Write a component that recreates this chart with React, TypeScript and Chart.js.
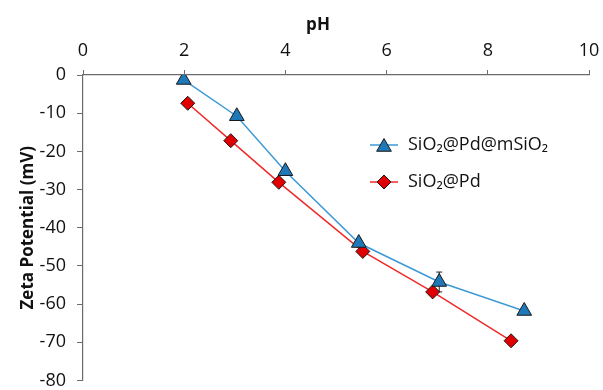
import React, { useEffect, useRef } from 'react';
import { Chart, registerables } from 'chart.js';
Chart.register(...registerables);

const xTicks = [0, 2, 4, 6, 8, 10];
const yTicks = [0, -10, -20, -30, -40, -50, -60, -70, -80];
const xTitle = 'pH';
const yTitle = 'Zeta Potential (mV)';

const seriesA = 'SiO₂@Pd@mSiO₂';
const aPH = [1.99, 3.04, 4.0, 5.45, 7.04, 8.72];
const aZeta = [-1.3, -10.8, -25.2, -44.0, -54.2, -61.8];
const aErr = [0.6, 0.8, 0.8, 1.0, 2.6, 0.8];

const seriesB = 'SiO₂@Pd';
const bPH = [2.07, 2.92, 3.87, 5.53, 6.91, 8.46];
const bZeta = [-7.4, -17.2, -28.1, -46.2, -56.8, -69.6];

const FONT = "'Open Sans', 'Liberation Sans', sans-serif";
const BLUE_LINE = '#3d9ad6';
const BLUE_FILL = '#1f78b8';
const RED_LINE = '#f02a2a';
const RED_FILL = '#e00000';
const EDGE = '#1a1a1a';
const AXIS = '#6b6b6b';
const TEXT = '#111111';

const errorBars = {
  id: 'errorBars',
  beforeDatasetsDraw(chart: any) {
    const { ctx, scales } = chart;
    ctx.save();
    ctx.strokeStyle = '#222';
    ctx.lineWidth = 1;
    aPH.forEach((x, i) => {
      const px = scales.x.getPixelForValue(x);
      const top = scales.y.getPixelForValue(aZeta[i] + aErr[i]);
      const bot = scales.y.getPixelForValue(aZeta[i] - aErr[i]);
      ctx.beginPath();
      ctx.moveTo(px, top);
      ctx.lineTo(px, bot);
      ctx.moveTo(px - 3, top);
      ctx.lineTo(px + 3, top);
      ctx.moveTo(px - 3, bot);
      ctx.lineTo(px + 3, bot);
      ctx.stroke();
    });
    ctx.restore();
  },
};

const customLegend = {
  id: 'customLegend',
  afterDraw(chart: any) {
    const { ctx } = chart;
    ctx.save();
    ctx.fillStyle = TEXT;
    ctx.font = `bold 17px ${FONT}`;
    ctx.textAlign = 'center';
    ctx.textBaseline = 'middle';
    ctx.fillText(xTitle, 318, 25);

    const rows = [
      { label: seriesA, y: 145, line: BLUE_LINE, fill: BLUE_FILL, shape: 'tri' },
      { label: seriesB, y: 182, line: RED_LINE, fill: RED_FILL, shape: 'dia' },
    ];
    rows.forEach((r) => {
      ctx.strokeStyle = r.line;
      ctx.lineWidth = 1.5;
      ctx.beginPath();
      ctx.moveTo(370, r.y);
      ctx.lineTo(398, r.y);
      ctx.stroke();
      const cx = 384;
      ctx.fillStyle = r.fill;
      ctx.strokeStyle = EDGE;
      ctx.lineWidth = 1;
      ctx.beginPath();
      if (r.shape === 'tri') {
        const rad = 8.5;
        const cy = r.y + 2;
        ctx.moveTo(cx, cy - rad);
        ctx.lineTo(cx + rad * 0.866, cy + rad * 0.5);
        ctx.lineTo(cx - rad * 0.866, cy + rad * 0.5);
      } else {
        const rad = 7;
        ctx.moveTo(cx, r.y - rad);
        ctx.lineTo(cx + rad, r.y);
        ctx.lineTo(cx, r.y + rad);
        ctx.lineTo(cx - rad, r.y);
      }
      ctx.closePath();
      ctx.fill();
      ctx.stroke();
      ctx.fillStyle = TEXT;
      ctx.font = `18px ${FONT}`;
      ctx.textBaseline = 'middle';
      ctx.textAlign = 'left';
      ctx.fillText(r.label, 408, r.y);
    });
    ctx.restore();
  },
};

export default function App() {
  const ref = useRef<HTMLCanvasElement>(null);
  useEffect(() => {
    if (!ref.current) return;
    const zeroV = (s: any) => { s.paddingTop = 0; s.paddingBottom = 0; };
    const chart = new Chart(ref.current, {
      type: 'scatter',
      data: {
        datasets: [
          {
            label: seriesA,
            data: aPH.map((x, i) => ({ x, y: aZeta[i] })),
            showLine: true,
            borderColor: BLUE_LINE,
            borderWidth: 1.5,
            pointStyle: 'triangle',
            pointRadius: 8.5,
            pointBackgroundColor: BLUE_FILL,
            pointBorderColor: EDGE,
            pointBorderWidth: 1,
          },
          {
            label: seriesB,
            data: bPH.map((x, i) => ({ x, y: bZeta[i] })),
            showLine: true,
            borderColor: RED_LINE,
            borderWidth: 1.5,
            pointStyle: 'rectRot',
            pointRadius: 7,
            pointBackgroundColor: RED_FILL,
            pointBorderColor: EDGE,
            pointBorderWidth: 1,
          },
        ],
      },
      options: {
        animation: false,
        responsive: false,
        events: [],
        layout: { padding: { left: 0, right: 14, top: 0, bottom: 8 } },
        plugins: { legend: { display: false }, tooltip: { enabled: false } },
        scales: {
          x: {
            type: 'linear',
            position: 'top',
            min: 0,
            max: 10,
            afterFit(s: any) { s.height = 75; s.paddingLeft = 0; s.paddingRight = 0; },
            afterBuildTicks(s: any) { s.ticks = xTicks.map((v) => ({ value: v })); },
            grid: { display: true, drawOnChartArea: false, drawTicks: true, tickLength: 5, color: AXIS },
            border: { display: true, color: AXIS, width: 1.2 },
            ticks: { color: TEXT, font: { family: FONT, size: 18 }, padding: 8, maxRotation: 0 },
            title: { display: false, text: xTitle },
          },
          y: {
            type: 'linear',
            min: -80,
            max: 0,
            afterFit(s: any) { s.width = 83; zeroV(s); },
            afterUpdate(s: any) { zeroV(s); },
            afterBuildTicks(s: any) { s.ticks = yTicks.map((v) => ({ value: v })); },
            grid: { display: true, drawOnChartArea: false, drawTicks: true, tickLength: 6, color: AXIS },
            border: { display: true, color: AXIS, width: 1.2 },
            ticks: { color: TEXT, font: { family: FONT, size: 18, lineHeight: 0.3 }, padding: 11 },
            title: { display: true, text: yTitle, color: TEXT, font: { family: FONT, size: 17, weight: 'bold' }, padding: { top: 18, bottom: 0 } },
          },
        },
      },
      plugins: [errorBars, customLegend],
    });
    return () => chart.destroy();
  }, []);
  return (
    <div style={{ position: 'fixed', left: 0, top: 0, width: 603, height: 390, background: '#fff' }}>
      <canvas ref={ref} width={603} height={390} style={{ width: 603, height: 390 }} />
    </div>
  );
}
